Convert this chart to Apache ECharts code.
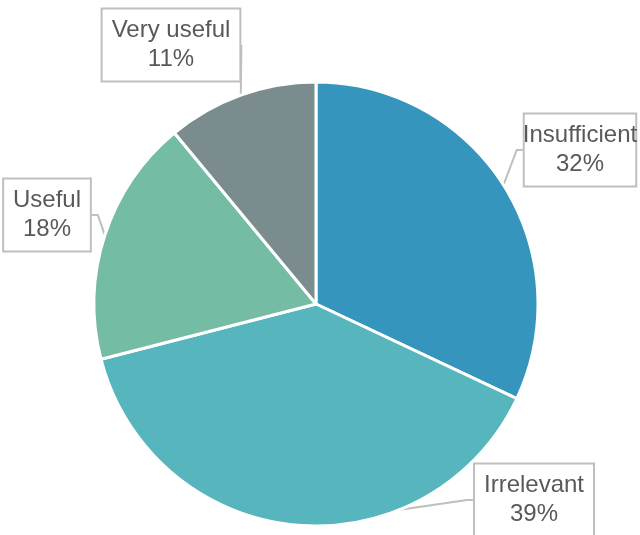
<!DOCTYPE html>
<html>
<head>
	<meta charset="utf-8">
	<title>pie</title>
	<script src="https://cdn.jsdelivr.net/npm/echarts@6/dist/echarts.min.js"></script>
</head>
<body style="margin:0">
	<div id="main" style="height: 535px; width: 640px;"></div>
	<script type="text/javascript">
		var categories = ['Insufficient', 'Irrelevant', 'Useful', 'Very useful'];
		var values = [32, 39, 18, 11];
		var colors = ['#3595bc', '#57b5be', '#75bca4', '#7a8c8e'];
		// label box centres
		var labelPos = [[580, 150], [534, 500], [47, 215], [171, 45]];

		var myChart = echarts.init(document.getElementById('main'));
		var data = categories.map(function (c, i) {
			return {name: c, value: values[i], itemStyle: {color: colors[i]}};
		});
		var option = {
			animation: false,
			series: {
				type: 'pie',
				center: [316, 304],
				radius: 222,
				startAngle: 90,
				clockwise: true,
				data: data,
				itemStyle: {borderColor: '#fff', borderWidth: 3},
				label: {
					show: true,
					formatter: '{b}\n{c}%',
					fontFamily: 'Liberation Sans, Arial',
					fontSize: 24,
					lineHeight: 29,
					color: '#595959',
					backgroundColor: '#fff',
					borderColor: '#bfbfbf',
					borderWidth: 2,
					padding: [7, 9, 6, 9],
					align: 'center',
					overflow: 'none',
					width: null
				},
				labelLine: {
					show: true,
					length: 6,
					length2: 6,
					lineStyle: {color: '#bfbfbf', width: 2}
				},
				labelLayout: function (params) {
					var p = labelPos[params.dataIndex];
					return {x: p[0], y: p[1], align: 'center', verticalAlign: 'middle'};
				}
			}
		};
		myChart.setOption(option);
	</script>
</body>
</html>
